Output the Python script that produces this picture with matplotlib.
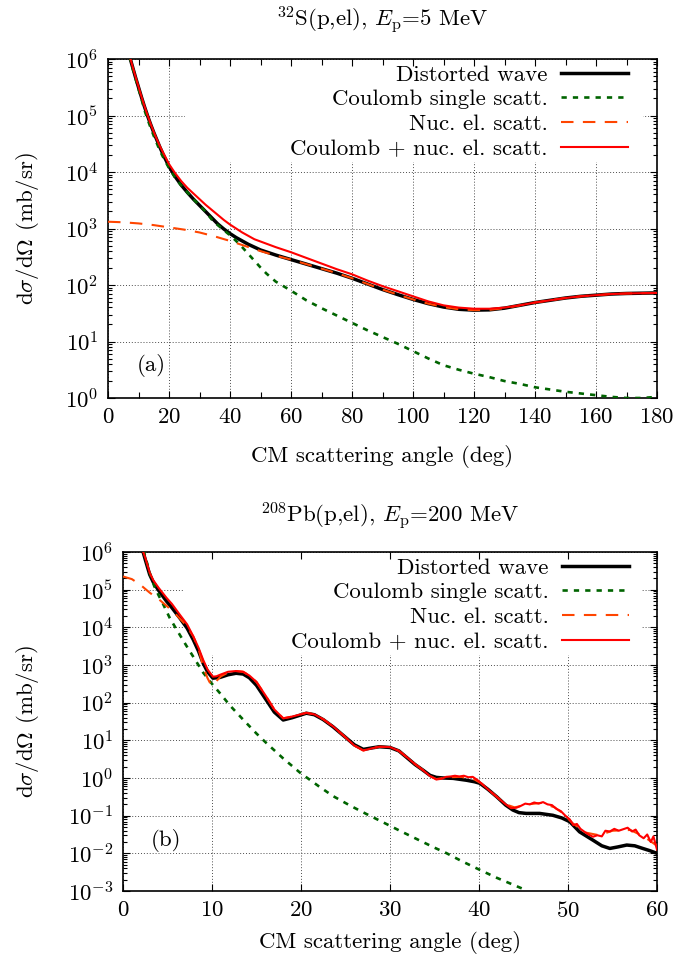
import numpy as np
import matplotlib
matplotlib.use('Agg')
import matplotlib.pyplot as plt
from matplotlib.ticker import LogLocator, MultipleLocator, NullFormatter
from matplotlib.patches import Rectangle

plt.rcParams['font.family'] = 'serif'
plt.rcParams['font.serif'] = ['cmr10']
plt.rcParams['mathtext.fontset'] = 'cm'
plt.rcParams['axes.formatter.use_mathtext'] = True
plt.rcParams['font.size'] = 16.5

# ---- (a) 32S(p,el), Ep = 5 MeV ; cross sections stored as log10(mb/sr) ----
s_dw_ang = [7, 8, 9, 10, 11, 12, 13, 14, 15, 16, 17, 18, 20, 22, 24, 26, 28, 30, 32, 34, 36, 38, 40,
            42, 44, 46, 48, 50, 55, 60, 65, 70, 75, 80, 85, 90, 95, 100, 105, 110, 115, 120, 125,
            130, 135, 140, 145, 150, 155, 160, 165, 170, 175, 180]
s_dw_log = [6.06, 5.87, 5.68, 5.50, 5.32, 5.15, 4.99, 4.84, 4.70, 4.57, 4.44, 4.32, 4.10, 3.92, 3.77,
            3.64, 3.52, 3.41, 3.30, 3.19, 3.08, 2.99, 2.91, 2.84, 2.78, 2.72, 2.67, 2.62, 2.53, 2.45,
            2.37, 2.29, 2.21, 2.12, 2.02, 1.92, 1.83, 1.745, 1.67, 1.61, 1.57, 1.555, 1.56, 1.59,
            1.64, 1.69, 1.73, 1.77, 1.80, 1.82, 1.84, 1.85, 1.855, 1.86]

s_coul_ang = [7, 8, 9, 10, 11, 12, 13, 14, 15, 16, 17, 18, 20, 22, 24, 26, 28, 30, 32, 34, 36, 38, 40,
              42, 44, 46, 48, 50, 52, 55, 60, 65, 70, 75, 80, 85, 90, 95, 100, 105, 110, 115, 120,
              125, 130, 135, 140, 145, 150, 155, 160, 165, 170, 175, 180]
s_coul_log = [6.05, 5.85, 5.66, 5.47, 5.29, 5.09, 4.93, 4.78, 4.64, 4.51, 4.38, 4.27, 4.07, 3.90, 3.76,
              3.64, 3.52, 3.41, 3.30, 3.16, 3.06, 2.97, 2.88, 2.78, 2.67, 2.55, 2.43, 2.31, 2.20,
              2.06, 1.90, 1.73, 1.59, 1.46, 1.33, 1.20, 1.08, 0.96, 0.83, 0.70, 0.58, 0.50, 0.43,
              0.37, 0.30, 0.25, 0.19, 0.15, 0.11, 0.08, 0.05, 0.02, 0.0, 0.0, 0.02]

s_nuc_ang = [0, 5, 10, 15, 20, 25, 30, 35, 40, 45, 50, 55, 60, 65, 70, 75, 80, 85, 90, 95, 100, 105,
             110, 115, 120, 125, 130, 135, 140, 145, 150, 155, 160, 165, 170, 175, 180]
s_nuc_log = [3.12, 3.11, 3.09, 3.06, 3.02, 2.98, 2.93, 2.86, 2.78, 2.69, 2.60, 2.52, 2.45, 2.37, 2.29,
             2.21, 2.12, 2.02, 1.92, 1.83, 1.745, 1.67, 1.61, 1.57, 1.555, 1.56, 1.59, 1.64, 1.69,
             1.73, 1.77, 1.80, 1.82, 1.84, 1.85, 1.855, 1.86]

s_sum_ang = [7, 8, 9, 10, 11, 12, 13, 14, 15, 16, 17, 18, 20, 22, 24, 26, 28, 30, 32, 34, 36, 38, 40,
             42, 44, 46, 48, 50, 55, 60, 65, 70, 75, 80, 85, 90, 95, 100, 105, 110, 115, 120, 125,
             130, 135, 140, 145, 150, 155, 160, 165, 170, 175, 180]
s_sum_log = [6.07, 5.88, 5.69, 5.51, 5.33, 5.16, 5.00, 4.85, 4.71, 4.58, 4.46, 4.35, 4.14, 3.98, 3.84,
             3.72, 3.62, 3.52, 3.42, 3.33, 3.24, 3.15, 3.07, 3.00, 2.93, 2.87, 2.81, 2.77, 2.67,
             2.58, 2.48, 2.38, 2.28, 2.19, 2.08, 1.98, 1.89, 1.80, 1.71, 1.64, 1.60, 1.58, 1.58,
             1.60, 1.64, 1.69, 1.73, 1.77, 1.80, 1.82, 1.84, 1.85, 1.855, 1.86]

# ---- (b) 208Pb(p,el), Ep = 200 MeV ----
pb_dw_ang = [2.2, 2.5, 3, 3.4, 4, 4.9, 5.5, 6.4, 7.2, 7.9, 8.5, 9, 9.5, 10.1, 10.9, 11.8, 12.7, 13.5,
             14.2, 15, 16.1, 17, 18, 19, 20.6, 21.5, 22.5, 23.6, 25, 26, 27, 28, 28.8, 30, 31, 31.8,
             32.8, 33.7, 34.5, 35.2, 36, 37.1, 38.6, 39.5, 40.1, 41, 42, 43, 43.8, 44.5, 45.3, 46.8,
             48.3, 49.3, 50.2, 51.3, 52.8, 53.8, 54.7, 55.6, 56.6, 57.5, 58.4, 59.2, 60]
pb_dw_log = [6.05, 5.8, 5.4, 5.2, 4.98, 4.69, 4.52, 4.24, 3.98, 3.67, 3.36, 3.05, 2.82, 2.65, 2.67,
             2.74, 2.78, 2.76, 2.66, 2.46, 2.07, 1.75, 1.54, 1.60, 1.72, 1.68, 1.55, 1.36, 1.08, 0.88,
             0.76, 0.80, 0.83, 0.81, 0.72, 0.56, 0.36, 0.21, 0.07, 0.016, 0.0, -0.01, -0.06, -0.10,
             -0.14, -0.30, -0.50, -0.72, -0.85, -0.92, -0.94, -0.94, -0.99, -1.06, -1.16, -1.43,
             -1.65, -1.80, -1.87, -1.83, -1.78, -1.80, -1.87, -1.93, -2.0]

pb_coul_ang = [2.3, 3, 3.5, 4, 4.5, 5.25, 6, 7.1, 8, 9, 10, 10.9, 12, 13.5, 15, 16.1, 18, 19.9, 22,
               23.6, 25.5, 27.3, 29, 31.1, 33, 35, 36.3, 38, 40.1, 42, 44, 45.2]
pb_coul_log = [6.05, 5.45, 5.1, 4.85, 4.62, 4.25, 3.95, 3.52, 3.18, 2.80, 2.50, 2.25, 1.93, 1.55,
               1.18, 0.93, 0.52, 0.14, -0.22, -0.48, -0.73, -0.95, -1.15, -1.40, -1.62, -1.85,
               -1.99, -2.20, -2.44, -2.65, -2.85, -2.97]

pb_nuc_ang = [0, 1, 2, 2.6, 3, 4.1, 5, 6, 7, 7.9, 8.5, 9, 9.5, 9.9, 10.3, 10.6, 11, 11.8, 12.7, 13.5,
              14.2, 15, 16.1, 17, 18, 19, 20.6, 21.5, 22.5, 23.6, 25, 26, 27, 28, 28.8, 30, 31, 31.8,
              32.8, 33.7, 34.5, 35.2, 36.5, 38, 39.5, 40.3, 41, 42, 43, 44, 45.5, 47, 48.5, 49.5,
              50.5, 52, 53.5, 55, 57, 58.5, 60]
pb_nuc_log = [5.35, 5.28, 5.12, 5.0, 4.92, 4.73, 4.55, 4.33, 4.08, 3.76, 3.42, 2.96, 2.65, 2.47, 2.50,
              2.60, 2.70, 2.80, 2.84, 2.82, 2.72, 2.55, 2.16, 1.82, 1.585, 1.63, 1.73, 1.69, 1.56,
              1.37, 1.08, 0.86, 0.73, 0.79, 0.83, 0.82, 0.72, 0.57, 0.37, 0.21, 0.05, -0.03, 0.02,
              0.03, -0.04, -0.15, -0.30, -0.50, -0.70, -0.78, -0.70, -0.66, -0.78, -0.95, -1.2,
              -1.45, -1.52, -1.40, -1.38, -1.55, -1.80]

pb_sum_ang = [2.2, 2.5, 3, 3.4, 4, 4.9, 5.5, 6.4, 7.2, 7.9, 8.5, 9, 9.5, 10.1, 10.5, 10.9, 11.8, 12.7,
              13.5, 14.2, 15, 16.1, 17, 18, 19, 20.6, 21.5, 22.5, 23.6, 25, 26, 27, 28, 28.8, 30, 31,
              31.8, 32.8, 33.7, 34.5, 35.2, 35.8, 36.3, 36.8, 37.3, 37.8, 38.3, 38.8, 39.3, 39.8,
              40.3, 41, 42, 43, 43.6, 44.2, 44.7, 45.2, 45.7, 46.2, 46.7, 47.2, 47.7, 48.2, 48.7,
              49.2, 49.7, 50.2, 50.6, 51.0, 51.4, 51.8, 52.3, 52.8, 53.3, 53.8, 54.2, 54.7, 55.2,
              55.7, 56.2, 56.7, 57.2, 57.6, 58.0, 58.5, 58.9, 59.3, 59.6, 60]
pb_sum_log = [6.05, 5.85, 5.45, 5.25, 5.05, 4.78, 4.62, 4.33, 4.08, 3.76, 3.45, 3.14, 2.88, 2.69, 2.70,
              2.74, 2.82, 2.84, 2.82, 2.72, 2.55, 2.16, 1.82, 1.585, 1.63, 1.73, 1.69, 1.56, 1.37,
              1.08, 0.86, 0.73, 0.79, 0.83, 0.82, 0.72, 0.57, 0.37, 0.21, 0.05, -0.04, -0.02, 0.03,
              0.04, 0.06, 0.04, 0.06, 0.02, 0.03, -0.05, -0.15, -0.30, -0.50, -0.70, -0.80, -0.79,
              -0.74, -0.68, -0.70, -0.65, -0.68, -0.64, -0.70, -0.72, -0.82, -0.88, -1.0, -1.1,
              -1.25, -1.22, -1.35, -1.42, -1.50, -1.56, -1.52, -1.55, -1.40, -1.42, -1.35, -1.40,
              -1.36, -1.32, -1.42, -1.37, -1.52, -1.60, -1.50, -1.70, -1.55, -1.90]

labels = ['Distorted wave', 'Coulomb single scatt.', 'Nuc. el. scatt.', 'Coulomb + nuc. el. scatt.']

fig = plt.figure(figsize=(6.9, 9.64), dpi=100)
W, H = 690.0, 964.0


def panel(rect, curves, xlim, ylim, xmajor, xminor, tag, tag_xy, box):
    ax = fig.add_axes(rect)
    ax.set_yscale('log')
    ax.set_axisbelow(True)

    (dw_x, dw_y), (c_x, c_y), (n_x, n_y), (s_x, s_y) = curves
    ax.plot(dw_x, 10.0 ** np.array(dw_y), color='black', lw=2.5, label=labels[0], zorder=3)
    ax.plot(c_x, 10.0 ** np.array(c_y), color='#006400', lw=1.9, ls=(0, (2.0, 2.3)),
            label=labels[1], zorder=3)
    ax.plot(n_x, 10.0 ** np.array(n_y), color='#ff4500', lw=1.5, ls=(0, (6, 4.5)),
            label=labels[2], zorder=3)
    ax.plot(s_x, 10.0 ** np.array(s_y), color='#ff0000', lw=1.5, label=labels[3], zorder=3)

    ax.set_xlim(*xlim)
    ax.set_ylim(10.0 ** ylim[0], 10.0 ** ylim[1])
    ax.xaxis.set_major_locator(MultipleLocator(xmajor))
    if xminor:
        ax.xaxis.set_minor_locator(MultipleLocator(xminor))
    ax.set_yticks([10.0 ** k for k in range(ylim[0], ylim[1] + 1)])
    ax.yaxis.set_minor_locator(LogLocator(base=10, subs=np.arange(2, 10), numticks=100))
    ax.yaxis.set_minor_formatter(NullFormatter())

    ax.tick_params(which='both', direction='in', top=True, right=True, width=0.8)
    ax.tick_params(which='major', length=5, pad=7)
    ax.tick_params(which='minor', length=2.8)
    ax.tick_params(axis='x', which='minor', length=4)
    for sp in ax.spines.values():
        sp.set_linewidth(1.2)

    ax.grid(True, which='major', color='0.3', lw=0.7, ls=(0, (1, 2)))

    # opaque key area
    ax.add_patch(Rectangle((box[0], box[1]), box[2] - box[0], box[3] - box[1],
                           transform=ax.transAxes, facecolor='white', edgecolor='none', zorder=1))

    ax.legend(loc='upper right', bbox_to_anchor=(0.947, 0.983), frameon=False, markerfirst=False,
              borderaxespad=0, borderpad=0, handlelength=2.9, handletextpad=0.6,
              labelspacing=0.2, fontsize=16.5)
    ax.text(tag_xy[0], tag_xy[1], tag, transform=ax.transAxes, ha='left', va='center')
    return ax


ax_a = panel([108 / W, 1 - 398 / H, 549 / W, 339 / H],
             [(s_dw_ang, s_dw_log), (s_coul_ang, s_coul_log),
              (s_nuc_ang, s_nuc_log), (s_sum_ang, s_sum_log)],
             (0, 180), (0, 6), 20, 10, '(a)', (0.052, 0.097),
             (0.140, 0.696, 0.9745, 0.976))

ax_b = panel([123 / W, 1 - 891 / H, 534 / W, 339 / H],
             [(pb_dw_ang, pb_dw_log), (pb_coul_ang, pb_coul_log),
              (pb_nuc_ang, pb_nuc_log), (pb_sum_ang, pb_sum_log)],
             (0, 60), (-3, 6), 10, None, '(b)', (0.052, 0.15),
             (0.114, 0.696, 0.972, 0.976))

fig.text(382.5 / W, 1 - 20 / H, r'$^{32}$S(p,el), $E_{\rm p}$=5 MeV', ha='center', va='center')
fig.text(390 / W, 1 - 516 / H, r'$^{208}$Pb(p,el), $E_{\rm p}$=200 MeV', ha='center', va='center')

ylab = r'd$\sigma$/d$\Omega$ (mb/sr)'
fig.text(28 / W, 1 - 229 / H, ylab, rotation=90, ha='center', va='center')
fig.text(28 / W, 1 - 722 / H, ylab, rotation=90, ha='center', va='center')

fig.text(382.5 / W, 1 - 456 / H, 'CM scattering angle (deg)', ha='center', va='center')
fig.text(390 / W, 1 - 943 / H, 'CM scattering angle (deg)', ha='center', va='center')

fig.savefig('out.png', dpi=100)
